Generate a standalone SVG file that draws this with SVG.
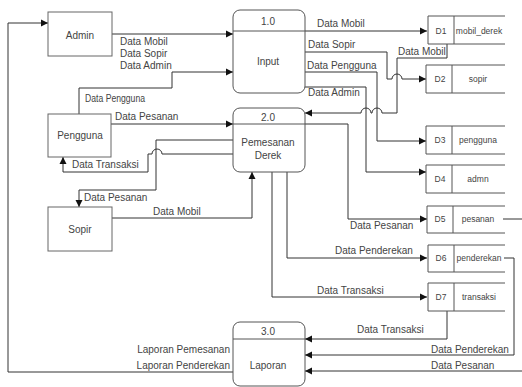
<svg xmlns="http://www.w3.org/2000/svg" width="522" height="387" viewBox="0 0 522 387">
<defs>
<marker id="arr" markerUnits="userSpaceOnUse" markerWidth="8" markerHeight="8" refX="7" refY="4" orient="auto">
<path d="M0,0.5 L7,4 L0,7.5 z" fill="#111"/>
</marker>
</defs>
<style>
text{font-family:"Liberation Sans",Arial,sans-serif;fill:#444;}
.lbl{font-size:10px;}
.node{font-size:10px;text-anchor:middle;}
.st{font-size:8.5px;text-anchor:middle;}
.ent{fill:#fff;stroke:#666;stroke-width:1;}
.proc{fill:#fff;stroke:#555;stroke-width:1;}
.store{fill:none;stroke:#555;stroke-width:1;}
.c{fill:none;stroke:#333;stroke-width:1;}
.a{marker-end:url(#arr);}
</style>
<rect width="522" height="387" fill="#fff"/>

<g id="connectors">
<path class="c a" d="M112,34 H233"/>
<path class="c a" d="M79,114 V88 H172 V72 H233"/>
<path class="c a" d="M111,124 H233"/>
<path class="c a" d="M112,218 H252 V172"/>
<path class="c a" d="M233,154 H162 a5,5 0 0 0 -10,0 H148 V172 H63 V157"/>
<path class="c a" d="M233,140 H156 V190 H79 V207"/>
<path class="c a" d="M305,31 H427"/>
<path class="c a" d="M305,52 H387 V79 H392 a5,5 0 0 1 10,0 H426"/>
<path class="c a" d="M305,72 H377 V141 H426"/>
<path class="c a" d="M305,87 H366 V172 H426"/>
<path class="c a" d="M447,44 V58 H397 V113 H382 a5,5 0 0 0 -10,0 H371 a5,5 0 0 0 -10,0 H305"/>
<path class="c a" d="M305,124 H348 V219 H427"/>
<path class="c a" d="M287,172 V258 H427"/>
<path class="c a" d="M272,172 V297 H427"/>
<path class="c a" d="M447,311 V339 H305"/>
<path class="c a" d="M504,258 H514 V355 H305"/>
<path class="c" d="M503,219 H522"/>
<path class="c a" d="M522,371 H305"/>
<path class="c a" d="M233,372 H8 V23 H48"/>
</g>

<g id="labels">
<text class="lbl" x="120" y="45">Data Mobil</text>
<text class="lbl" x="120" y="57">Data Sopir</text>
<text class="lbl" x="120" y="69">Data Admin</text>
<text class="lbl" x="85" y="102" textLength="60" lengthAdjust="spacingAndGlyphs">Data Pengguna</text>
<text class="lbl" x="115" y="120">Data Pesanan</text>
<text class="lbl" x="72" y="168">Data Transaksi</text>
<text class="lbl" x="84" y="201">Data Pesanan</text>
<text class="lbl" x="153" y="215">Data Mobil</text>
<text class="lbl" x="317" y="27">Data Mobil</text>
<text class="lbl" x="308" y="48">Data Sopir</text>
<text class="lbl" x="398" y="55">Data Mobil</text>
<text class="lbl" x="307" y="69">Data Pengguna</text>
<text class="lbl" x="308" y="96">Data Admin</text>
<text class="lbl" x="350" y="229">Data Pesanan</text>
<text class="lbl" x="335" y="254">Data Penderekan</text>
<text class="lbl" x="317" y="294">Data Transaksi</text>
<text class="lbl" x="357" y="333">Data Transaksi</text>
<text class="lbl" x="431" y="353">Data Penderekan</text>
<text class="lbl" x="431" y="369">Data Pesanan</text>
<text class="lbl" x="230" y="353" text-anchor="end">Laporan Pemesanan</text>
<text class="lbl" x="230" y="369" text-anchor="end">Laporan Penderekan</text>
</g>

<g id="admin">
<rect class="ent" x="48" y="12" width="64" height="44"/>
<text class="node" x="80" y="39">Admin</text>
</g>
<g id="pengguna">
<rect class="ent" x="48" y="114" width="63" height="43"/>
<text class="node" x="80" y="139">Pengguna</text>
</g>
<g id="sopir">
<rect class="ent" x="48" y="207" width="64" height="44"/>
<text class="node" x="80" y="233">Sopir</text>
</g>

<g id="p1">
<rect class="proc" x="233" y="10" width="72" height="83" rx="7"/>
<line class="proc" x1="233" y1="31" x2="305" y2="31"/>
<text class="node" x="268" y="25">1.0</text>
<text class="node" x="268" y="65">Input</text>
</g>
<g id="p2">
<rect class="proc" x="233" y="108" width="72" height="64" rx="7"/>
<line class="proc" x1="233" y1="124" x2="305" y2="124"/>
<text class="node" x="268" y="121">2.0</text>
<text class="node" x="268" y="146">Pemesanan</text>
<text class="node" x="268" y="159">Derek</text>
</g>
<g id="p3">
<rect class="proc" x="233" y="322" width="72" height="64" rx="7"/>
<line class="proc" x1="233" y1="339" x2="305" y2="339"/>
<text class="node" x="268" y="335">3.0</text>
<text class="node" x="268" y="369">Laporan</text>
</g>

<g id="d1">
<path class="store" d="M505,16 H428 V44 H505 M454,16 V44"/>
<text class="st" x="441" y="34">D1</text>
<text class="st" x="479" y="34">mobil_derek</text>
</g>
<g id="d2">
<path class="store" d="M505,65 H426 V93 H505 M452,65 V93"/>
<text class="st" x="440" y="82">D2</text>
<text class="st" x="478" y="82">sopir</text>
</g>
<g id="d3">
<path class="store" d="M505,126 H426 V154 H505 M452,126 V154"/>
<text class="st" x="440" y="143">D3</text>
<text class="st" x="478" y="143">pengguna</text>
</g>
<g id="d4">
<path class="store" d="M505,165 H426 V193 H505 M452,165 V193"/>
<text class="st" x="440" y="182">D4</text>
<text class="st" x="478" y="182">admn</text>
</g>
<g id="d5">
<path class="store" d="M505,206 H427 V233 H505 M453,206 V233"/>
<text class="st" x="440" y="222">D5</text>
<text class="st" x="478" y="222">pesanan</text>
</g>
<g id="d6">
<path class="store" d="M505,245 H428 V272 H505 M454,245 V272"/>
<text class="st" x="441" y="261">D6</text>
<text class="st" x="479" y="261">penderekan</text>
</g>
<g id="d7">
<path class="store" d="M505,283 H428 V311 H505 M454,283 V311"/>
<text class="st" x="441" y="300">D7</text>
<text class="st" x="479" y="300">transaksi</text>
</g>
</svg>
